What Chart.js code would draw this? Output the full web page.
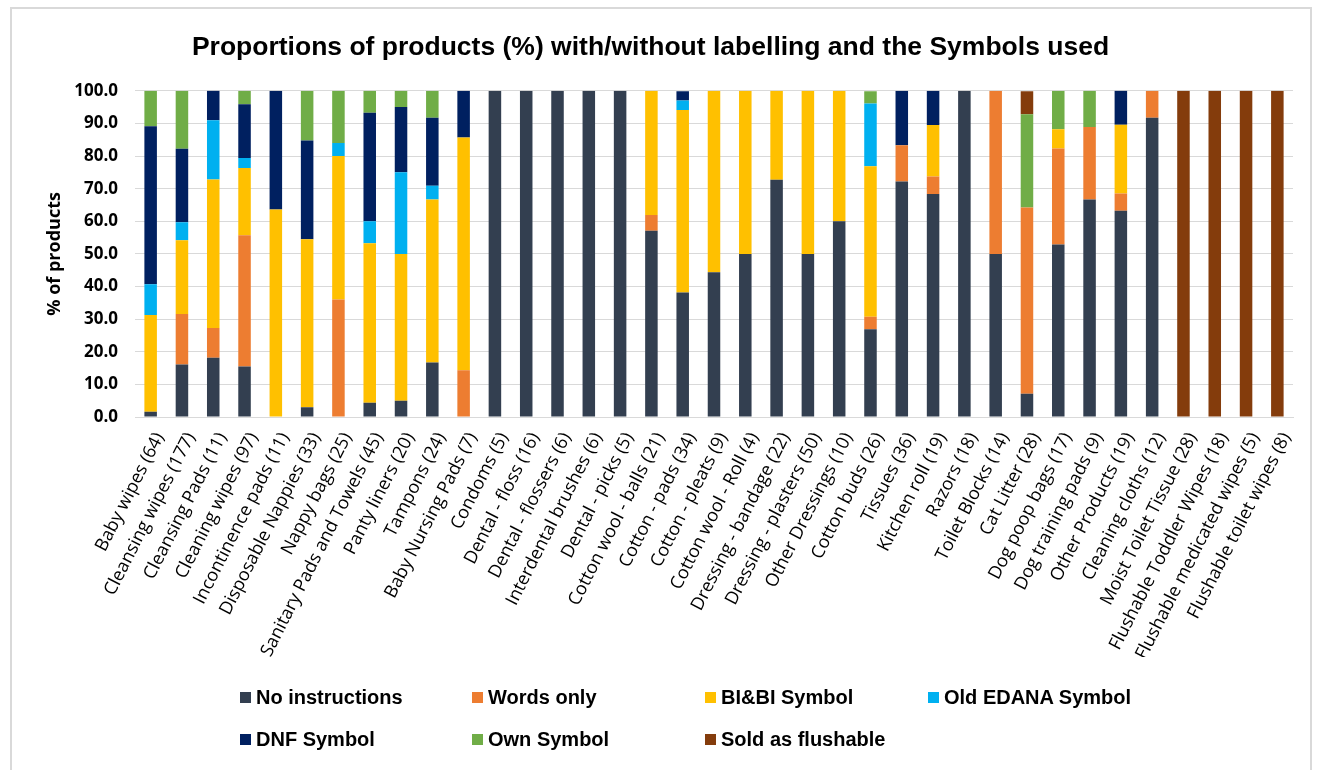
<!DOCTYPE html>
<html>
<head>
<meta charset="utf-8">
<script src="https://cdn.jsdelivr.net/npm/chart.js@4"></script>
<style>
  body { margin: 0; background: #fff; }
  #wrap { position: relative; width: 1321px; height: 770px; overflow: hidden; }
  #frame { position: absolute; left: 10px; top: 7px; width: 1302px; height: 780px; border: 2px solid #d9d9d9; box-sizing: border-box; }
  #legend { position: absolute; left: 0; top: 686px; width: 1321px; height: 80px; }
  .item { position: absolute; font: bold 20px "Liberation Sans", sans-serif; color: #000; white-space: nowrap; }
  .box { display: inline-block; width: 11px; height: 11px; margin-right: 5px; vertical-align: 1px; }
</style>
</head>
<body>
<div id="wrap">
  <div id="frame"></div>
  <canvas id="myChart" width="1321" height="770"></canvas>
  <div id="legend"></div>
</div>
<script>
// categories (product type + number of products)
const categories = [
  "Baby wipes (64)", "Cleansing wipes (177)", "Cleansing Pads (11)", "Cleaning wipes (97)",
  "Incontinence pads (11)", "Disposable Nappies (33)", "Nappy bags (25)", "Sanitary Pads and Towels (45)",
  "Panty liners (20)", "Tampons (24)", "Baby Nursing Pads (7)", "Condoms (5)", "Dental - floss (16)",
  "Dental - flossers (6)", "Interdental brushes (6)", "Dental - picks (5)", "Cotton wool - balls (21)",
  "Cotton - pads (34)", "Cotton - pleats (9)", "Cotton wool - Roll (4)", "Dressing - bandage (22)",
  "Dressing - plasters (50)", "Other Dressings (10)", "Cotton buds (26)", "Tissues (36)",
  "Kitchen roll (19)", "Razors (18)", "Toilet Blocks (14)", "Cat Litter (28)", "Dog poop bags (17)",
  "Dog training pads (9)", "Other Products (19)", "Cleaning cloths (12)", "Moist Toilet Tissue (28)",
  "Flushable Toddler Wipes (18)", "Flushable medicated wipes (5)", "Flushable toilet wipes (8)"
];

// % of products per category
const noInstructions = [1.6, 16.1, 18.2, 15.5, 0, 3.0, 0, 4.4, 5.0, 16.7, 0, 100, 100, 100, 100, 100,
  57.1, 38.2, 44.4, 50, 72.7, 50, 60, 26.9, 72.2, 68.4, 100, 50, 7.1, 52.9, 66.7, 63.2, 91.7, 0, 0, 0, 0];
const wordsOnly = [0, 15.5, 9.1, 40.2, 0, 0, 36, 0, 0, 0, 14.3, 0, 0, 0, 0, 0,
  4.8, 0, 0, 0, 0, 0, 0, 3.8, 11.1, 5.3, 0, 50, 57.1, 29.4, 22.2, 5.3, 8.3, 0, 0, 0, 0];
const bibiSymbol = [29.7, 22.6, 45.5, 20.6, 63.6, 51.5, 44, 48.9, 45, 50, 71.4, 0, 0, 0, 0, 0,
  38.1, 55.9, 55.6, 50, 27.3, 50, 40, 46.2, 0, 15.8, 0, 0, 0, 5.9, 0, 21.1, 0, 0, 0, 0, 0];
const oldEdana = [9.4, 5.5, 18.2, 3.1, 0, 0, 4, 6.7, 25, 4.2, 0, 0, 0, 0, 0, 0,
  0, 2.9, 0, 0, 0, 0, 0, 19.2, 0, 0, 0, 0, 0, 0, 0, 0, 0, 0, 0, 0, 0];
const dnfSymbol = [48.4, 22.5, 9.1, 16.5, 36.4, 30.3, 0, 33.3, 20, 20.8, 14.3, 0, 0, 0, 0, 0,
  0, 2.9, 0, 0, 0, 0, 0, 0, 16.7, 10.5, 0, 0, 0, 0, 0, 10.5, 0, 0, 0, 0, 0];
const ownSymbol = [10.9, 17.8, 0, 4.1, 0, 15.2, 16, 6.7, 5, 8.3, 0, 0, 0, 0, 0, 0,
  0, 0, 0, 0, 0, 0, 0, 3.8, 0, 0, 0, 0, 28.6, 11.8, 11.1, 0, 0, 0, 0, 0, 0];
const soldFlushable = [0, 0, 0, 0, 0, 0, 0, 0, 0, 0, 0, 0, 0, 0, 0, 0,
  0, 0, 0, 0, 0, 0, 0, 0, 0, 0, 0, 0, 7.1, 0, 0, 0, 0, 100, 100, 100, 100];

const yTicks = [0, 10, 20, 30, 40, 50, 60, 70, 80, 90, 100];

const seriesNames = ["No instructions", "Words only", "BI&BI Symbol", "Old EDANA Symbol", "DNF Symbol", "Own Symbol", "Sold as flushable"];
const seriesData = [noInstructions, wordsOnly, bibiSymbol, oldEdana, dnfSymbol, ownSymbol, soldFlushable];
const colors = ['#333f50', '#ed7d31', '#ffc000', '#00b0f0', '#002060', '#70ad47', '#843c0c'];

const ctx = document.getElementById('myChart').getContext('2d');
const myChart = new Chart(ctx, {
  type: 'bar',
  data: {
    labels: categories,
    datasets: seriesNames.map((name, i) => ({
      label: name,
      data: seriesData[i],
      backgroundColor: colors[i],
      borderWidth: 0,
      barPercentage: 0.4,
      categoryPercentage: 1
    }))
  },
  options: {
    responsive: false,
    animation: false,
    layout: { padding: { left: 8, right: 28, top: 10, bottom: 113 } },
    plugins: {
      legend: { display: false },
      tooltip: { enabled: false },
      title: {
        display: true,
        text: 'Proportions of products (%) with/without labelling and the Symbols used',
        color: '#000',
        font: { family: '"Liberation Sans", sans-serif', size: 26.5, weight: 'bold' },
        padding: { top: 22, bottom: 27 }
      }
    },
    scales: {
      x: {
        stacked: true,
        grid: { display: false },
        border: { color: '#d9d9d9', width: 1 },
        ticks: {
          autoSkip: false,
          minRotation: 63,
          maxRotation: 63,
          padding: 4,
          labelOffset: 9,
          color: '#000',
          font: { family: '"Open Sans", sans-serif', size: 18 }
        },
        afterFit: (s) => { s.height = 240; }
      },
      y: {
        stacked: true,
        min: 0,
        max: 100,
        afterBuildTicks: (s) => { s.ticks = yTicks.map(v => ({ value: v })); },
        grid: { color: '#d9d9d9', lineWidth: 1, drawTicks: false },
        border: { display: false },
        ticks: {
          padding: 17,
          color: '#000',
          font: { family: '"Open Sans", sans-serif', size: 17, weight: 'bold' },
          callback: (v) => Number(v).toFixed(1)
        },
        title: {
          display: true,
          text: '% of products',
          color: '#000',
          padding: { top: 36, bottom: 0 },
          font: { family: '"Open Sans", sans-serif', size: 18, weight: 'bold' }
        },
        afterFit: (s) => { s.width = 127; }
      }
    }
  }
});

// legend as a grid, like the original
const legendPos = [[240, 0], [472, 0], [705, 0], [928, 0], [240, 42], [472, 42], [705, 42]];
const legendDiv = document.getElementById('legend');
myChart.data.datasets.forEach((ds, i) => {
  const el = document.createElement('div');
  el.className = 'item';
  el.style.left = legendPos[i][0] + 'px';
  el.style.top = legendPos[i][1] + 'px';
  el.innerHTML = '<span class="box" style="background:' + ds.backgroundColor + '"></span>' + ds.label.replace('&', '&amp;');
  legendDiv.appendChild(el);
});
</script>
</body>
</html>
